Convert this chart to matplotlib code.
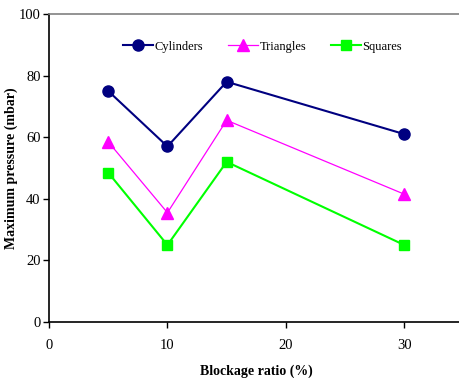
import matplotlib
matplotlib.use("Agg")
import matplotlib.pyplot as plt

blockage = [5, 10, 15, 30]
cylinders = [75, 57, 78, 61]
triangles = [58.5, 35.5, 65.5, 41.5]
squares = [48.5, 25, 52, 25]
x_ticks = [0, 10, 20, 30]
y_ticks = [0, 20, 40, 60, 80, 100]

plt.rcParams['font.family'] = ['Liberation Serif', 'DejaVu Serif']

fig = plt.figure(figsize=(4.6, 3.78), dpi=100)
ax = fig.add_axes([0.1065, 0.148, 0.8935, 0.815])

ax.plot(blockage, cylinders, color='#000080', lw=1.5, marker='o', ms=8,
        label='Cylinders')
ax.plot(blockage, triangles, color='#FF00FF', lw=0.9, marker='^', ms=8,
        label='Triangles')
ax.plot(blockage, squares, color='#00FF00', lw=1.5, marker='s', ms=7.5,
        label='Squares')

ax.set_xlim(0, 34.7)
ax.set_ylim(0, 100)
ax.set_xticks(x_ticks)
ax.set_yticks(y_ticks)
ax.tick_params(axis='both', direction='out', length=4, width=1,
               labelsize=10.5)
ax.tick_params(axis='x', pad=8)
ax.tick_params(axis='y', pad=2)

ax.spines['right'].set_visible(False)
ax.spines['top'].set_color('#808080')
ax.spines['top'].set_linewidth(1.2)
ax.spines['left'].set_linewidth(1.2)
ax.spines['bottom'].set_linewidth(1.2)

ax.set_xlabel('Blockage ratio (%)', fontsize=10, fontweight='bold')
ax.xaxis.set_label_coords(0.505, -0.138)
ax.set_ylabel('Maximum pressure (mbar)', fontsize=10, fontweight='bold')
ax.yaxis.set_label_coords(-0.075, 0.5)

leg = ax.legend(loc='upper center', bbox_to_anchor=(0.52, 0.95), ncol=3,
                frameon=False, fontsize=9, handlelength=2.4,
                handletextpad=0.1, columnspacing=2.0)

fig.savefig('out.png', dpi=100)
